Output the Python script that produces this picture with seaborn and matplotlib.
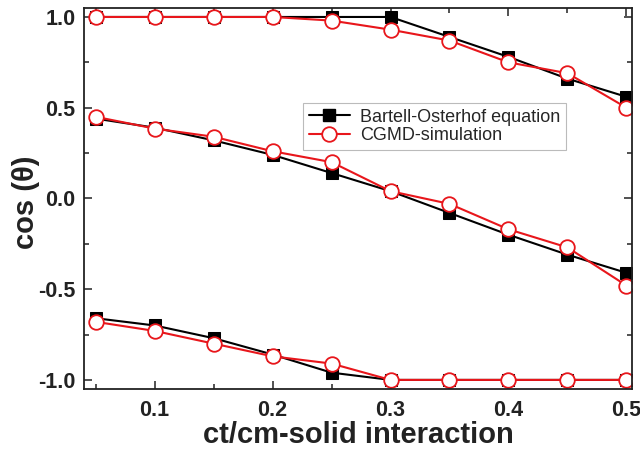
import numpy as np
import pandas as pd
import matplotlib
matplotlib.use("Agg")
import matplotlib.pyplot as plt
from matplotlib.ticker import MultipleLocator
from matplotlib.lines import Line2D
import seaborn as sns

# --- Data ---
x_vals = [0.05, 0.10, 0.15, 0.20, 0.25, 0.30, 0.35, 0.40, 0.45, 0.50]

bo_upper = [1.00, 1.00, 1.00, 1.00, 1.00, 1.00, 0.89, 0.78, 0.66, 0.56]
bo_middle = [0.44, 0.39, 0.32, 0.24, 0.14, 0.04, -0.08, -0.20, -0.31, -0.41]
bo_lower = [-0.66, -0.70, -0.77, -0.86, -0.96, -1.00, -1.00, -1.00, -1.00, -1.00]

md_upper = [1.00, 1.00, 1.00, 1.00, 0.98, 0.93, 0.87, 0.75, 0.69, 0.50]
md_middle = [0.45, 0.385, 0.34, 0.26, 0.20, 0.04, -0.03, -0.17, -0.27, -0.48]
md_lower = [-0.68, -0.73, -0.80, -0.87, -0.91, -1.00, -1.00, -1.00, -1.00, -1.00]

series_names = ["Bartell-Osterhof equation", "CGMD-simulation"]


def build_frame() -> pd.DataFrame:
    rows = []
    for name, branches in zip(series_names, [(bo_upper, bo_middle, bo_lower),
                                             (md_upper, md_middle, md_lower)]):
        for b, ys in enumerate(branches):
            for xv, yv in zip(x_vals, ys):
                rows.append({"x": xv, "cos": yv, "series": name, "branch": b})
    return pd.DataFrame(rows)


# --- Plot ---
def plot_contact_angle(df: pd.DataFrame):
    sns.set_style("ticks")
    plt.rcParams["font.family"] = ["Liberation Sans", "DejaVu Sans"]

    fig = plt.figure(figsize=(6.4, 4.51), dpi=100)
    ax = fig.add_axes([0.131, 0.1375, 0.857, 0.845])

    styles = {
        series_names[0]: dict(color="black", marker="s", markersize=9,
                              markerfacecolor="black", markeredgecolor="black"),
        series_names[1]: dict(color="#e8161b", marker="o", markersize=10.5,
                              markerfacecolor="white", markeredgecolor="#e8161b",
                              markeredgewidth=1.3),
    }
    for name in series_names:
        sub = df[df["series"] == name]
        for b, grp in sub.groupby("branch"):
            sns.lineplot(data=grp, x="x", y="cos", ax=ax, linewidth=1.5,
                         estimator=None, sort=False, legend=False, **styles[name])

    ax.set_xlim(0.04, 0.505)
    ax.set_ylim(-1.05, 1.05)
    ax.xaxis.set_major_locator(MultipleLocator(0.1))
    ax.xaxis.set_minor_locator(MultipleLocator(0.05))
    ax.yaxis.set_major_locator(MultipleLocator(0.5))
    ax.yaxis.set_minor_locator(MultipleLocator(0.25))
    ax.xaxis.set_major_formatter(matplotlib.ticker.FormatStrFormatter("%.1f"))
    ax.yaxis.set_major_formatter(matplotlib.ticker.FormatStrFormatter("%.1f"))
    ax.tick_params(which="both", direction="in", top=True, right=True,
                   width=1.2, color="#333333")
    ax.tick_params(which="major", length=6, labelsize=15.5)
    ax.tick_params(axis="x", which="major", pad=8)
    ax.tick_params(axis="y", which="major", pad=6)
    ax.tick_params(which="minor", length=3.5)
    for lbl in ax.get_xticklabels() + ax.get_yticklabels():
        lbl.set_fontweight("bold")
        lbl.set_color("#222222")
    for sp in ax.spines.values():
        sp.set_linewidth(1.3)
        sp.set_color("#222222")

    ax.set_xlabel("ct/cm-solid interaction", fontsize=21, fontweight="bold",
                  color="#222222", labelpad=0)
    ax.set_ylabel("cos (\u03b8)", fontsize=21, fontweight="bold",
                  color="#222222", labelpad=0)
    ax.yaxis.set_label_coords(-0.08, 0.49)

    handles = [Line2D([], [], linewidth=1.5, **styles[n]) for n in series_names]
    leg = ax.legend(handles, series_names, loc="upper left",
                    bbox_to_anchor=(0.40, 0.75), fontsize=13, frameon=True,
                    fancybox=False, borderpad=0.3, handlelength=2.3,
                    handletextpad=0.55, labelspacing=0.1, borderaxespad=0)
    leg.get_frame().set_edgecolor("#aaaaaa")
    leg.get_frame().set_linewidth(0.8)

    fig.savefig("out.png", dpi=100)


def main():
    df = build_frame()
    plot_contact_angle(df)


if __name__ == "__main__":
    main()
